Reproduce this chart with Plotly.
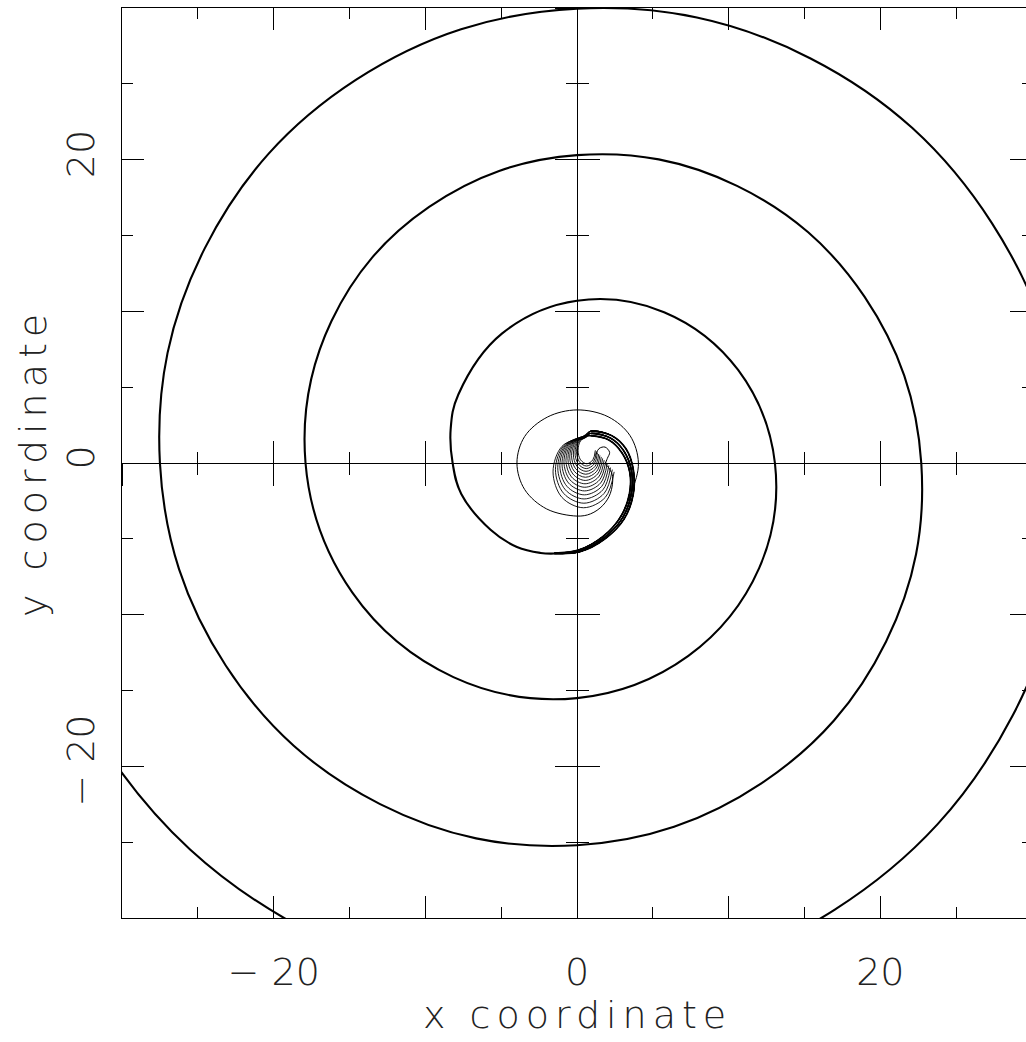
import plotly.graph_objects as go

# ---- main (outer) spiral, outward / clockwise ----
spiral_x = [-1.5, -2.4, -3.96, -5.7, -7.63, -8.2, -8.33,
            -7.823, -4.933, 0.0, 5.742, 10.623, 13.05, 12.009, 7.342, 0.0, -8.15, -14.809,
            -17.9, -16.194, -9.75, 0.0, 10.55, 18.966, 22.7, 20.38, 12.183, 0.0, -12.983, -23.151,
            -27.5, -24.537, -14.583, 0.0, 15.4, 27.366, 32.4, 28.752, 17.0, 0.0, -17.8, -31.523,
            -37.2]
spiral_y = [-5.97, -5.93, -5.54, -4.4, -2.04, 0.0, 2.23,
            4.517, 8.545, 10.7, 9.945, 6.133, 0.0, -6.933, -12.716, -15.5, -14.116, -8.55,
            0.0, 9.35, 16.887, 20.3, 18.273, 10.95, 0.0, -11.767, -21.102, -25.2, -22.488, -13.367,
            0.0, 14.167, 25.259, 29.95, 26.673, 15.8, 0.0, -16.6, -29.445, -34.8, -30.831, -18.2,
            0.0]

# ---- bundle of converging tracks on the right of the centre ----
bundle_a_x = [0.9, 2.3, 3.25, 3.72, 3.7, 3.1, 1.85, 0.2, -1.5]
bundle_a_y = [2.1, 1.8, 0.9, -0.5, -2.1, -3.7, -5.0, -5.85, -5.97]
bundle_b_x = [0.9, 2.2, 3.1, 3.6, 3.58, 3.0, 1.8, 0.17, -1.5]
bundle_b_y = [1.95, 1.65, 0.78, -0.55, -2.06, -3.62, -4.92, -5.8, -5.96]
bundle_c_x = [0.9, 2.1, 2.97, 3.48, 3.46, 2.9, 1.74, 0.13, -1.5]
bundle_c_y = [1.8, 1.52, 0.66, -0.6, -2.02, -3.52, -4.82, -5.73, -5.95]

# ---- thin outer ring track (starts with the small S-shaped wiggle) ----
ring_x = [1.25, 1.45, 1.85, 2.15, 2.0, 1.9, 2.15, 2.35, 2.2, 1.7, 0.9, 0.0, -2.0, -3.45,
          -3.96, -3.45, -1.95, 0.0, 2.05, 3.5, 4.05, 3.6, 2.75, 1.6, 0.2, -1.5]
ring_y = [0.55, 0.95, 1.05, 0.7, 0.3, -0.05, -0.4, -0.9, -2.0, -2.8, -3.35, -3.5, -3.03, -1.75,
          0.0, 1.75, 3.03, 3.5, 3.05, 1.8, 0.0, -1.9, -3.7, -5.0, -5.85, -5.97]

# ---- nested inner loops (extents) ----
loop_left = [-1.58, -1.42, -1.27, -1.13, -0.99, -0.86, -0.73, -0.6, -0.48, -0.36, -0.24, -0.13, -0.03, 0.07]
loop_right = [2.45, 2.33, 2.21, 2.1, 1.99, 1.89, 1.79, 1.69, 1.6, 1.51, 1.43, 1.35, 1.28, 1.21]
loop_bottom = [-2.95, -2.65, -2.37, -2.1, -1.84, -1.6, -1.37, -1.15, -0.94, -0.74, -0.55, -0.37, -0.2, -0.05]
loop_top = [1.78, 1.78, 1.77, 1.77, 1.76, 1.76, 1.75, 1.75, 1.74, 1.74, 1.73, 1.73, 1.72, 1.72]

# ---- axis ticks / labels ----
major_vals = [-30, -20, -10, 0, 10, 20, 30]
x_tick_text = ["", "\u2212 20", "", "0", "", "20", ""]
y_tick_text = ["", "\u2212 20", "", "0", "", "20", ""]
x_title = "x coordinate"
y_title = "y coordinate"

INK = "#000000"
TXT = "#222222"
FONT = "DejaVu Sans"

fig = go.Figure()

fig.add_trace(go.Scatter(x=spiral_x, y=spiral_y, mode="lines", hoverinfo="skip",
                         line=dict(color=INK, width=2.1, shape="spline", smoothing=1.1)))

bundles = [(bundle_a_x, bundle_a_y), (bundle_b_x, bundle_b_y), (bundle_c_x, bundle_c_y)]
for bx, by in bundles:
    fig.add_trace(go.Scatter(x=bx, y=by, mode="lines", hoverinfo="skip",
                             line=dict(color=INK, width=1.8, shape="spline", smoothing=1.0)))

fig.add_trace(go.Scatter(x=ring_x, y=ring_y, mode="lines", hoverinfo="skip",
                         line=dict(color=INK, width=1.0, shape="spline", smoothing=1.0)))

for k in range(len(loop_left)):
    cx = (loop_left[k] + loop_right[k]) / 2
    cy = (loop_top[k] + loop_bottom[k]) / 2
    rx = (loop_right[k] - loop_left[k]) / 2
    ry = (loop_top[k] - loop_bottom[k]) / 2
    bx, by = bundles[k % 3]
    xs = [cx + rx, cx + 0.71 * rx, cx, cx - 0.71 * rx, cx - rx, cx - 0.71 * rx, cx] + bx
    ys = [cy, cy - 0.71 * ry, cy - ry, cy - 0.71 * ry, cy, cy + 0.71 * ry, cy + ry] + by
    fig.add_trace(go.Scatter(x=xs, y=ys, mode="lines", hoverinfo="skip",
                             line=dict(color=INK, width=0.9, shape="spline", smoothing=1.0)))

# empty traces so that the extra (overlaid) axes are drawn
for xa, ya in [("x3", "y"), ("x4", "y"), ("x", "y2"), ("x", "y3"), ("x", "y4")]:
    fig.add_trace(go.Scatter(x=[None], y=[None], xaxis=xa, yaxis=ya, mode="lines",
                             hoverinfo="skip", showlegend=False))

FIG_W, FIG_H = 1026, 1042
ML, MT = 122, 8
MB = FIG_H - 910 - MT
PW = FIG_W - ML
XR = [-30, -30 + 60 * PW / 910]
YR = [-30, 30]
x0_pos = (0 - XR[0]) / (XR[1] - XR[0])

common = dict(showgrid=False, zeroline=False, automargin=False, tickcolor=INK, tickwidth=1,
              linecolor=INK, linewidth=1)


def minor(kind, length):
    return dict(ticks=kind, ticklen=length, dtick=5, tick0=0, tickcolor=INK, tickwidth=1,
                showgrid=False)


def spaced(s):
    return '<span style="letter-spacing:6px">' + s + '</span>'


fig.update_layout(
    width=FIG_W, height=FIG_H,
    margin=dict(l=ML, r=0, t=MT, b=MB, autoexpand=False),
    paper_bgcolor="white", plot_bgcolor="white", showlegend=False,
    font=dict(family=FONT, size=38, color=TXT, weight=200),
    xaxis=dict(range=XR, showline=True, mirror="ticks", ticks="inside", ticklen=22,
               tickvals=major_vals, ticktext=x_tick_text, ticklabelstandoff=20,
               minor=minor("inside", 11), **common),
    yaxis=dict(range=YR, showline=True, mirror=False, ticks="inside", ticklen=22,
               tickvals=major_vals, ticktext=y_tick_text, tickangle=-90, ticklabelstandoff=12,
               minor=minor("inside", 11), **common),
    yaxis2=dict(range=YR, overlaying="y", side="right", anchor="x", showline=False,
                ticks="inside", ticklen=16, tickvals=major_vals, showticklabels=False,
                minor=minor("inside", 4), **common),
    xaxis3=dict(range=XR, overlaying="x", anchor="free", position=0.5, showline=True,
                ticks="inside", ticklen=22, tickvals=major_vals, showticklabels=False,
                minor=minor("inside", 11), **common),
    xaxis4=dict(range=XR, overlaying="x", anchor="free", position=0.5, showline=True,
                ticks="outside", ticklen=22, tickvals=major_vals, showticklabels=False,
                minor=minor("outside", 11), **common),
    yaxis3=dict(range=YR, overlaying="y", anchor="free", position=x0_pos, showline=True,
                ticks="inside", ticklen=22, tickvals=major_vals, showticklabels=False,
                minor=minor("inside", 11), **common),
    yaxis4=dict(range=YR, overlaying="y", anchor="free", position=x0_pos, showline=True,
                ticks="outside", ticklen=22, tickvals=major_vals, showticklabels=False,
                minor=minor("outside", 11), **common),
    annotations=[
        dict(text=spaced(x_title), xref="x", x=0, yref="paper", y=(918 - 1015) / 910,
             showarrow=False, xanchor="center", yanchor="middle",
             font=dict(family=FONT, size=38, color=TXT, weight=200)),
        dict(text=spaced(y_title), xref="paper", x=(33 - 122) / PW, yref="y", y=0, textangle=-90,
             showarrow=False, xanchor="center", yanchor="middle",
             font=dict(family=FONT, size=38, color=TXT, weight=200)),
    ],
)

fig.write_html("out.html",
               config={"displayModeBar": False},
               post_script="document.body.style.margin='0px';"
                           "document.documentElement.style.overflow='hidden';")
